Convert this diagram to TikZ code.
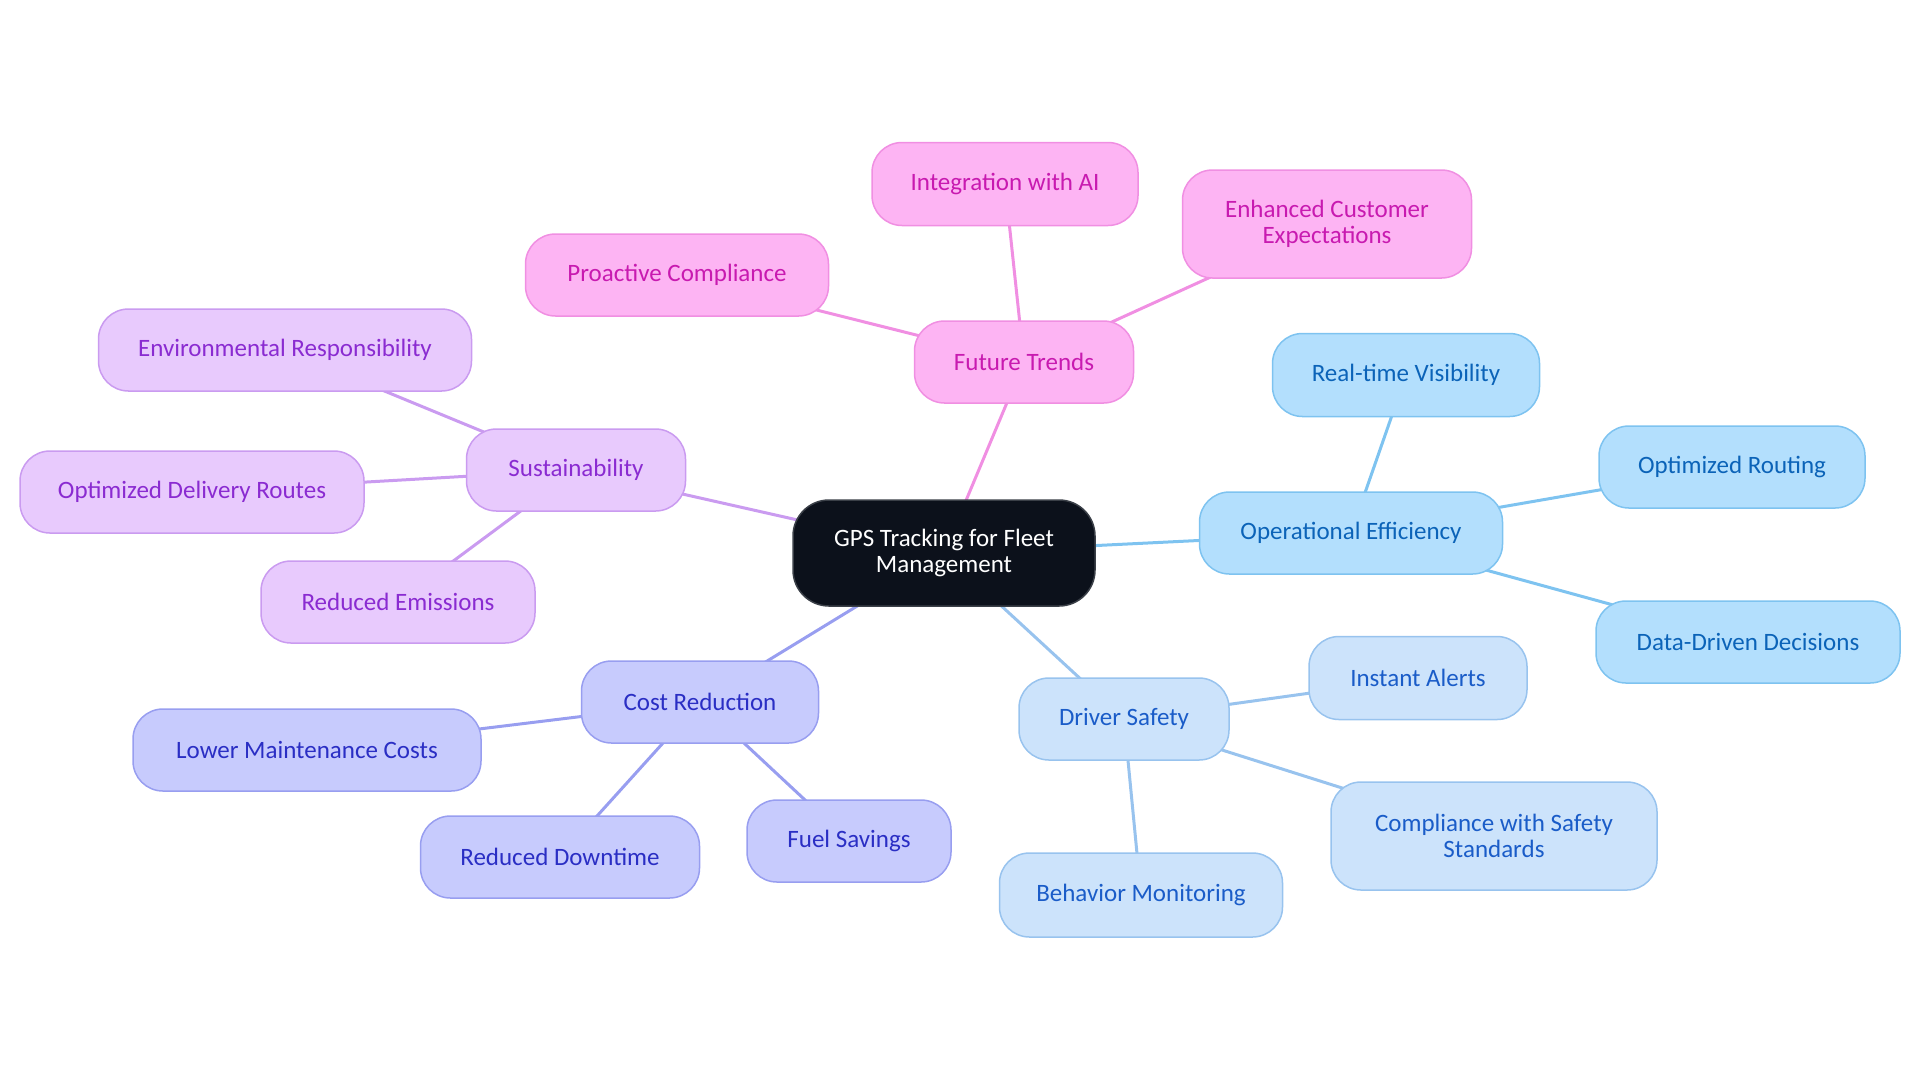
\documentclass[tikz,border=0pt]{standalone}
\usepackage{fontspec}
\setmainfont{Carlito}
\usetikzlibrary{backgrounds}
\definecolor{rootfill}{HTML}{0C111B}
\definecolor{rootline}{HTML}{3A3F47}
\definecolor{opfill}{HTML}{B3DFFD}
\definecolor{opline}{HTML}{7EC3F0}
\definecolor{optext}{HTML}{0B63B8}
\definecolor{dsfill}{HTML}{CCE3FB}
\definecolor{dsline}{HTML}{98C3EE}
\definecolor{dstext}{HTML}{1A5CC8}
\definecolor{crfill}{HTML}{C7CBFD}
\definecolor{crline}{HTML}{989EF0}
\definecolor{crtext}{HTML}{2A2EC4}
\definecolor{sufill}{HTML}{E8CAFD}
\definecolor{suline}{HTML}{CA9BF0}
\definecolor{sutext}{HTML}{8A2BD1}
\definecolor{ftfill}{HTML}{FDB4F3}
\definecolor{ftline}{HTML}{F08FE2}
\definecolor{fttext}{HTML}{C81AB0}
\tikzset{
  basebox/.style={rectangle, rounded corners=15pt, line width=0.75pt, align=center,
    inner sep=0pt, font=\fontsize{12.5}{13}\selectfont},
  rootbox/.style={basebox, fill=rootfill, draw=rootline, text=white, rounded corners=18pt},
  opbox/.style={basebox, fill=opfill, draw=opline, text=optext},
  dsbox/.style={basebox, fill=dsfill, draw=dsline, text=dstext},
  crbox/.style={basebox, fill=crfill, draw=crline, text=crtext},
  subox/.style={basebox, fill=sufill, draw=suline, text=sutext},
  ftbox/.style={basebox, fill=ftfill, draw=ftline, text=fttext},
  link/.style={line width=1.5pt},
}
\begin{document}
\begin{tikzpicture}[x=0.5pt,y=-0.5pt]
\useasboundingbox (0,0) rectangle (1920,1083);
% root
\node[rootbox, minimum width=151pt, minimum height=53pt] (root) at (944,553) {GPS Tracking for Fleet\\Management};
% operational efficiency
\node[opbox, minimum width=151.5pt, minimum height=41pt] (op) at (1351,533) {Operational Efficiency};
\node[opbox, minimum width=133.5pt, minimum height=41.5pt] (op1) at (1406,375) {Real-time Visibility};
\node[opbox, minimum width=133pt, minimum height=41pt] (op2) at (1732,467) {Optimized Routing};
\node[opbox, minimum width=152pt, minimum height=41pt] (op3) at (1748,642) {Data-Driven Decisions};
% driver safety
\node[dsbox, minimum width=105pt, minimum height=41pt] (ds) at (1124,719) {Driver Safety};
\node[dsbox, minimum width=109pt, minimum height=41.5pt] (ds1) at (1418,678) {Instant Alerts};
\node[dsbox, minimum width=163pt, minimum height=54pt] (ds2) at (1494,836) {Compliance with Safety\\Standards};
\node[dsbox, minimum width=141.5pt, minimum height=42pt] (ds3) at (1141,895) {Behavior Monitoring};
% cost reduction
\node[crbox, minimum width=118.5pt, minimum height=41pt] (cr) at (700,702) {Cost Reduction};
\node[crbox, minimum width=174pt, minimum height=41pt] (cr1) at (307,750) {Lower Maintenance Costs};
\node[crbox, minimum width=139.5pt, minimum height=41pt] (cr2) at (560,857) {Reduced Downtime};
\node[crbox, minimum width=102pt, minimum height=41pt] (cr3) at (849,841) {Fuel Savings};
% sustainability
\node[subox, minimum width=109.5pt, minimum height=41pt] (su) at (576,470) {Sustainability};
\node[subox, minimum width=186.5pt, minimum height=41pt] (su1) at (285,350) {Environmental Responsibility};
\node[subox, minimum width=172pt, minimum height=41pt] (su2) at (192,492) {Optimized Delivery Routes};
\node[subox, minimum width=137pt, minimum height=41pt] (su3) at (398,602) {Reduced Emissions};
% future trends
\node[ftbox, minimum width=109.5pt, minimum height=41pt] (ft) at (1024,362) {Future Trends};
\node[ftbox, minimum width=133pt, minimum height=41.5pt] (ft1) at (1005,184) {Integration with AI};
\node[ftbox, minimum width=151.5pt, minimum height=41pt] (ft2) at (677,275) {Proactive Compliance};
\node[ftbox, minimum width=144.5pt, minimum height=54pt] (ft3) at (1327,224) {Enhanced Customer\\Expectations};
\begin{pgfonlayer}{background}
\draw[link, draw=opline] (root.center) -- (op.center);
\draw[link, draw=opline] (op.center) -- (op1.center);
\draw[link, draw=opline] (op.center) -- (op2.center);
\draw[link, draw=opline] (op.center) -- (op3.center);
\draw[link, draw=dsline] (root.center) -- (ds.center);
\draw[link, draw=dsline] (ds.center) -- (ds1.center);
\draw[link, draw=dsline] (ds.center) -- (ds2.center);
\draw[link, draw=dsline] (ds.center) -- (ds3.center);
\draw[link, draw=crline] (root.center) -- (cr.center);
\draw[link, draw=crline] (cr.center) -- (cr1.center);
\draw[link, draw=crline] (cr.center) -- (cr2.center);
\draw[link, draw=crline] (cr.center) -- (cr3.center);
\draw[link, draw=suline] (root.center) -- (su.center);
\draw[link, draw=suline] (su.center) -- (su1.center);
\draw[link, draw=suline] (su.center) -- (su2.center);
\draw[link, draw=suline] (su.center) -- (su3.center);
\draw[link, draw=ftline] (root.center) -- (ft.center);
\draw[link, draw=ftline] (ft.center) -- (ft1.center);
\draw[link, draw=ftline] (ft.center) -- (ft2.center);
\draw[link, draw=ftline] (ft.center) -- (ft3.center);
\end{pgfonlayer}
\end{tikzpicture}
\end{document}
